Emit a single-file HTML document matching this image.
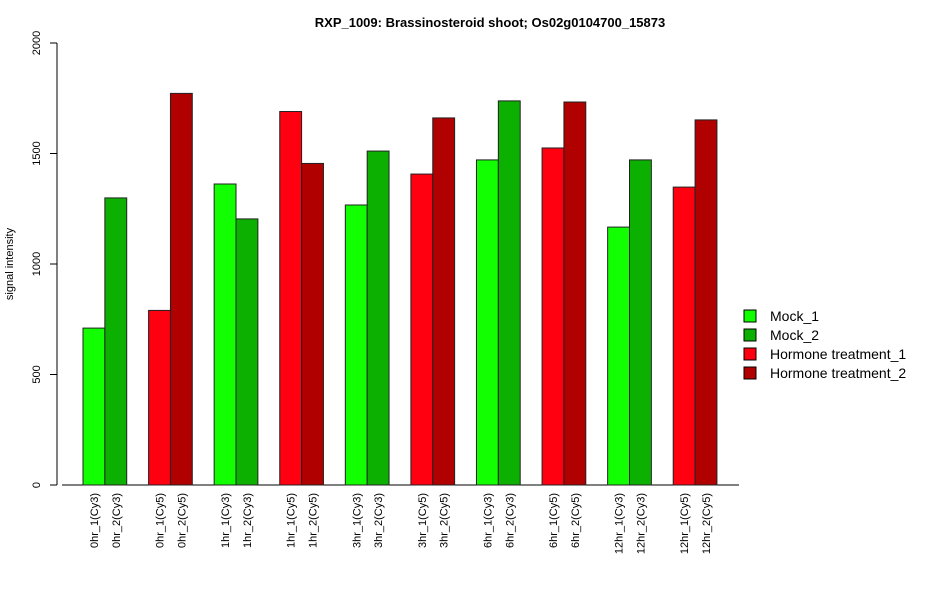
<!DOCTYPE html>
<html><head><meta charset="utf-8"><style>
body{margin:0;background:#fff;font-family:"Liberation Sans",Arial,sans-serif}
</style></head><body>
<svg id="chart" width="950" height="600" xmlns="http://www.w3.org/2000/svg" font-family="Liberation Sans, Arial, sans-serif">
<text x="490" y="27" text-anchor="middle" font-size="13" font-weight="bold">RXP_1009: Brassinosteroid shoot; Os02g0104700_15873</text>
<text transform="translate(13,264) rotate(-90)" text-anchor="middle" font-size="11">signal intensity</text>
<g id="axes"></g><g id="bars"></g><g id="legend"></g>
</svg>
<script>
const categories=["0hr_1(Cy3)","0hr_2(Cy3)","0hr_1(Cy5)","0hr_2(Cy5)","1hr_1(Cy3)","1hr_2(Cy3)","1hr_1(Cy5)","1hr_2(Cy5)","3hr_1(Cy3)","3hr_2(Cy3)","3hr_1(Cy5)","3hr_2(Cy5)","6hr_1(Cy3)","6hr_2(Cy3)","6hr_1(Cy5)","6hr_2(Cy5)","12hr_1(Cy3)","12hr_2(Cy3)","12hr_1(Cy5)","12hr_2(Cy5)"];
const values=[710,1299,790,1772,1362,1204,1690,1455,1267,1511,1407,1661,1471,1738,1525,1733,1167,1471,1348,1652];
const seriesIndex=[0,1,2,3,0,1,2,3,0,1,2,3,0,1,2,3,0,1,2,3];
const seriesNames=["Mock_1","Mock_2","Hormone treatment_1","Hormone treatment_2"];
const seriesColors=["#11ff00","#0bb000","#ff0010","#b00000"];
const yTicks=[0,500,1000,1500,2000];
const NS="http://www.w3.org/2000/svg";
function mk(t,a,p){const e=document.createElementNS(NS,t);for(const k in a)e.setAttribute(k,a[k]);p.appendChild(e);return e;}
const y0=485,y1=43,ymax=2000;
function yS(v){return y0-(v/ymax)*(y0-y1);}
const bw=21.86,x0=83;
function xS(i){const g=Math.floor(i/2);return x0+(g*3+(i%2))*bw;}
const axes=document.getElementById('axes');
const ya=mk('line',{x1:57,x2:57,y1:yS(0),y2:yS(2000),stroke:'#000'},axes);


yTicks.forEach(t=>{
 const l=mk('line',{x1:50,x2:57,y1:yS(t),y2:yS(t),stroke:'#000'},axes);
 
 
 const tx=mk('text',{transform:`translate(40,${yS(t)}) rotate(-90)`,'text-anchor':'middle','font-size':11},axes);
 tx.textContent=t;
 
 
});
const xa=mk('line',{x1:62,x2:739,y1:485,y2:485,stroke:'#000'},axes);


const bars=document.getElementById('bars');
values.forEach((v,i)=>{
 const x=xS(i);
 const r=mk('rect',{x:x,y:yS(v),width:bw,height:yS(0)-yS(v),fill:seriesColors[seriesIndex[i]],stroke:'#222','stroke-width':1},bars);
 
 
 const t=mk('text',{transform:`translate(${x+bw/2+4},493) rotate(-90)`,'text-anchor':'end','font-size':11},bars);
 t.textContent=categories[i];
 
 
});
const lg=document.getElementById('legend');
seriesNames.forEach((n,i)=>{
 const yy=316+i*19;
 const r=mk('rect',{x:744,y:yy-6,width:12,height:12,fill:seriesColors[i],stroke:'#000'},lg);
 
 
 const t=mk('text',{x:770,y:yy+5,'font-size':14},lg);
 t.textContent=n;
 
 
});
</script>
</body></html>
